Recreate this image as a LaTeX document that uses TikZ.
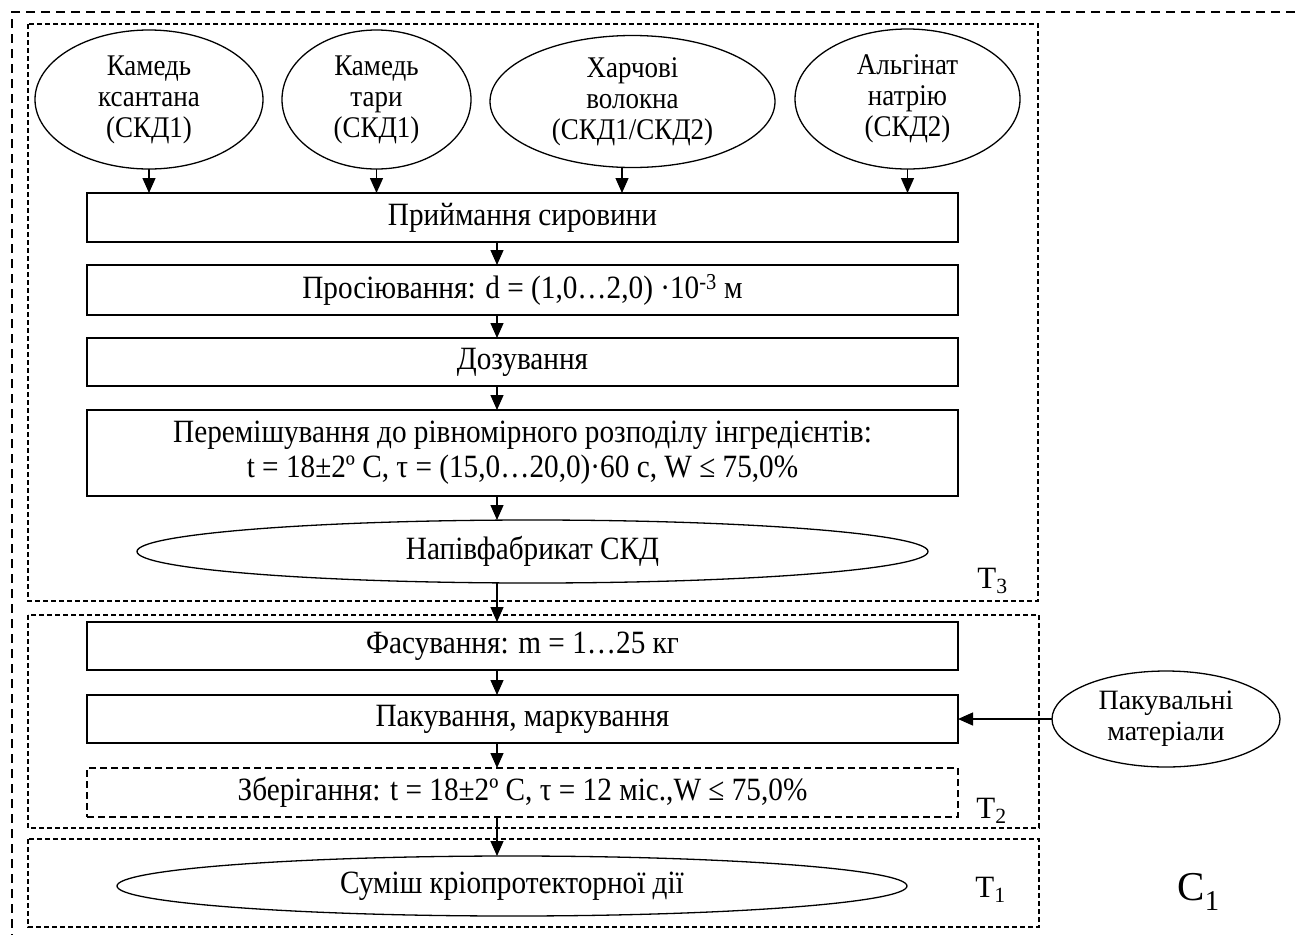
\documentclass[tikz,border=0pt]{standalone}
\usepackage{fontspec}
\setmainfont{Liberation Serif}
\newfontfamily\condfont[FakeStretch=0.9]{Liberation Serif}
\usetikzlibrary{arrows.meta,shapes.geometric}
\begin{document}
\begin{tikzpicture}[x=1pt,y=-1pt,
  every node/.style={font=\condfont\fontsize{32.5}{35}\selectfont, inner sep=0pt, outer sep=0pt},
  procbox/.style={draw, line width=2pt, rectangle, minimum width=871pt, align=center},
  storebox/.style={procbox, dash pattern=on 7pt off 4pt},
  srcell/.style={draw, line width=1.3pt, ellipse, align=center, font=\condfont\fontsize{30}{31}\selectfont},
  frame/.style={draw, line width=1.4pt, dash pattern=on 5pt off 3pt},
  outerframe/.style={draw, line width=2pt, dash pattern=on 9pt off 6pt},
  arr/.style={line width=1.3pt, -{Triangle[width=13pt,length=15pt]}},
  lbl/.style={anchor=base, font=\fontsize{31}{33}\selectfont},
]
\useasboundingbox (0,0) rectangle (1295,935);

% frames
\draw[outerframe] (1295,12) -- (12,12) -- (12,935);
\draw[frame] (28,24) rectangle (1038,601);
\draw[frame] (28,615) rectangle (1039,828);
\draw[frame] (28,839) rectangle (1039,927);

% source ellipses
\node[srcell, minimum width=228pt, minimum height=139pt] (e1) at (149,99.5) {Камедь\\ксантана\\(СКД1)};
\node[srcell, minimum width=189pt, minimum height=139pt] (e2) at (376.5,99.5) {Камедь\\тари\\(СКД1)};
\node[srcell, minimum width=285pt, minimum height=132pt] (e3) at (632.5,101.5) {Харчові\\волокна\\(СКД1/СКД2)};
\node[srcell, minimum width=225pt, minimum height=140pt] (e4) at (907.5,99) {Альгінат\\натрію\\(СКД2)};

% process boxes
\node[procbox, minimum height=49pt] (b1) at (522.5,217.5) {Приймання сировини};
\node[procbox, minimum height=50pt] (b2) at (522.5,290) {Просіювання: d = (1,0…2,0) ·10\textsuperscript{-3} м};
\node[procbox, minimum height=48pt] (b3) at (522.5,362) {Дозування};
\node[procbox, minimum height=86pt, font=\condfont\fontsize{32.5}{35}\selectfont] (b4) at (522.5,453) {Перемішування до рівномірного розподілу інгредієнтів:\\t = 18±2º С, τ = (15,0…20,0)·60 с, W ≤ 75,0\%};
\node[srcell, font=\condfont\fontsize{32.5}{35}\selectfont, minimum width=791pt, minimum height=63pt] (e5) at (532.5,551.5) {Напівфабрикат СКД};

\node[procbox, minimum height=48pt] (b5) at (522.5,646) {Фасування: m = 1…25 кг};
\node[procbox, minimum height=48pt] (b6) at (522.5,719) {Пакування, маркування};
\node[storebox, minimum height=49pt] (b7) at (522.5,792.5) {Зберігання: t = 18±2º С, τ = 12 міс.,W ≤ 75,0\%};
\node[srcell, font=\fontsize{28}{31}\selectfont, minimum width=228pt, minimum height=96pt] (e7) at (1166,719) {Пакувальні\\матеріали};

\node[srcell, font=\condfont\fontsize{32.5}{35}\selectfont, minimum width=790pt, minimum height=60pt] (e6) at (512,886) {Суміш кріопротекторної дії};

% labels
\node[lbl] (t3) at (992.5,588) {T\textsubscript{3}};
\node[lbl] (t2) at (991.5,818) {T\textsubscript{2}};
\node[lbl] (t1) at (990.5,897) {T\textsubscript{1}};
\node[lbl, font=\fontsize{41}{44}\selectfont] (c1) at (1198.5,900) {C\textsubscript{1}};

% connectors
\coordinate (cx) at (497,0);
\draw[arr] (e1.south) -- (e1.south |- b1.north);
\draw[arr] (e2.south) -- (e2.south |- b1.north);
\draw[arr] ([xshift=-10.5pt]e3.south) -- ([xshift=-10.5pt]e3.south |- b1.north);
\draw[arr] (e4.south) -- (e4.south |- b1.north);
\draw[arr] (cx |- b1.south) -- (cx |- b2.north);
\draw[arr] (cx |- b2.south) -- (cx |- b3.north);
\draw[arr] (cx |- b3.south) -- (cx |- b4.north);
\draw[arr] (cx |- b4.south) -- (cx |- e5.north);
\draw[arr] (cx |- e5.south) -- (cx |- b5.north);
\draw[arr] (cx |- b5.south) -- (cx |- b6.north);
\draw[arr] (cx |- b6.south) -- (cx |- b7.north);
\draw[arr] (cx |- b7.south) -- (cx |- e6.north);
\draw[arr] (e7.west) -- (b6.east);
\end{tikzpicture}
\end{document}
